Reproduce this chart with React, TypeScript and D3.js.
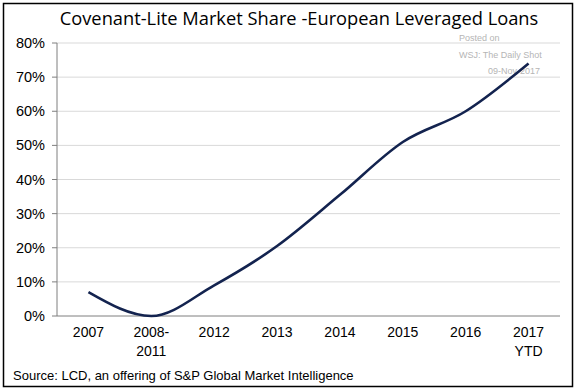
import * as d3 from 'd3'

const categories = ['2007', '2008-\n2011', '2012', '2013', '2014', '2015', '2016', '2017\nYTD']
const shares = [7, 0, 9, 20.5, 35.5, 51, 60, 74]
const yTicks = [0, 10, 20, 30, 40, 50, 60, 70, 80]
const title = 'Covenant-Lite Market Share -European Leveraged Loans'
const source = 'Source: LCD, an offering  of S&P Global Market Intelligence'
const watermark = ['Posted on', 'WSJ: The Daily Shot', '09-Nov-2017']

const W = 578
const H = 391
const m = { left: 57, right: 18, top: 43, bottom: 75 }

export default function App() {
  const x = d3.scaleBand<number>().domain(categories.map((_, i) => i)).range([m.left, W - m.right])
  const y = d3.scaleLinear().domain([0, 80]).range([H - m.bottom, m.top])
  const cx = (i: number) => (x(i) ?? 0) + x.bandwidth() / 2

  const line = d3.line<number>()
    .x((_, i) => cx(i))
    .y(d => y(d))
    .curve(d3.curveMonotoneX)

  const axisFont = 'Liberation Sans, Arial, sans-serif'

  return (
    <svg width={W} height={H} style={{ position: 'absolute', left: 0, top: 0, background: '#fff' }}>
      <rect x={3.5} y={3.5} width={569} height={383} fill="#fff" stroke="#000" strokeWidth={1.5} />

      <text x={299} y={25} textAnchor="middle" fontFamily="Open Sans, sans-serif" fontSize={18.3} fill="#000">
        {title}
      </text>

      {yTicks.map(t => (
        <g key={t}>
          {t > 0 && (
            <line x1={m.left} x2={W - m.right} y1={y(t)} y2={y(t)} stroke="#d9d9d9" strokeWidth={1} />
          )}
          <line x1={m.left - 5} x2={m.left} y1={y(t)} y2={y(t)} stroke="#7f7f7f" />
          <text x={45} y={y(t)} dy="0.35em" textAnchor="end" fontFamily={axisFont} fontSize={14.5} fill="#000">
            {t}%
          </text>
        </g>
      ))}

      <line x1={m.left} x2={m.left} y1={y(80)} y2={y(0)} stroke="#7f7f7f" />
      <line x1={m.left} x2={W - m.right} y1={y(0)} y2={y(0)} stroke="#7f7f7f" />

      {watermark.map((w, i) => (
        <text key={w}
          x={i === 2 ? 540 : 459}
          y={41 + i * 16.5}
          textAnchor={i === 2 ? 'end' : 'start'}
          fontFamily={axisFont} fontSize={9} fill="#b5b5b5">
          {w}
        </text>
      ))}

      <path d={line(shares) ?? ''} fill="none" stroke="#13234f" strokeWidth={2.6} />

      {categories.map((c, i) => (
        <text key={c} x={cx(i)} y={337} textAnchor="middle" fontFamily={axisFont} fontSize={14} fill="#000">
          {c.split('\n').map((s, j) => (
            <tspan key={j} x={cx(i)} dy={j === 0 ? 0 : 19}>{s}</tspan>
          ))}
        </text>
      ))}

      <text x={13} y={380} fontFamily={axisFont} fontSize={13} fill="#000">{source}</text>
    </svg>
  )
}
